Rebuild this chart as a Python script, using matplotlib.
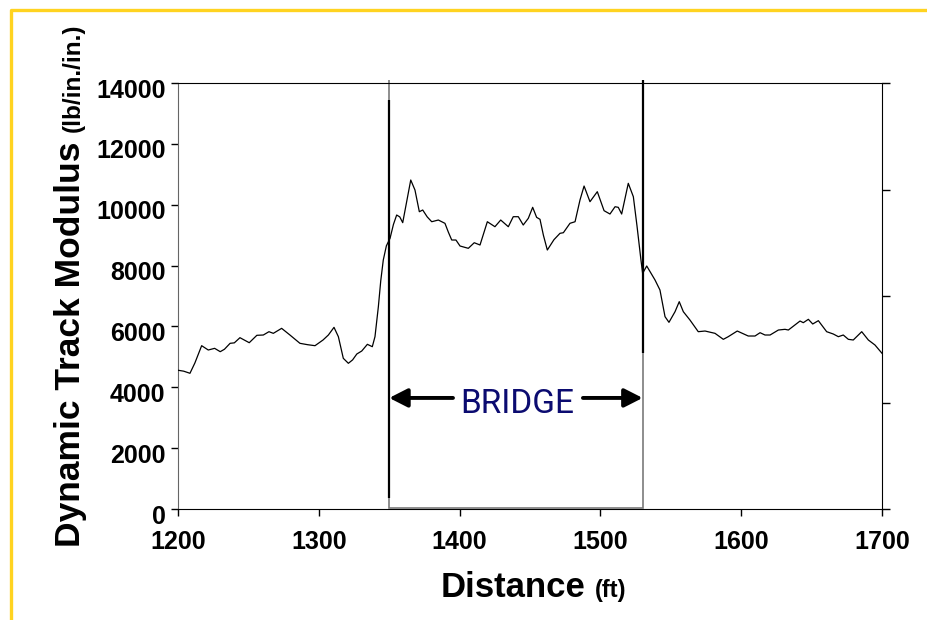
import numpy as np
import matplotlib
matplotlib.use("Agg")
from matplotlib import pyplot as plt
from matplotlib import patches, lines
import matplotlib.transforms as mtransforms

# distance along the track (ft) and dynamic track modulus (lb/in./in.)
distance = [1200, 1204, 1208.5, 1212, 1216.8, 1221.5, 1226, 1230, 1233, 1237, 1240, 1244,
            1250.6, 1256, 1260.6, 1264.6, 1267.7, 1273.6, 1279.5, 1286.6, 1292, 1297.3,
            1303, 1306.8, 1310.8, 1313.9, 1317.4, 1321, 1324, 1327, 1330.5, 1334.5, 1338,
            1339.9, 1342.3, 1344, 1345.8, 1348, 1350.6, 1353, 1355.3, 1357.5, 1359.6, 1362,
            1365.3, 1368.3, 1371.4, 1373.8, 1377, 1380.2, 1384.9, 1389.6, 1392, 1394.4,
            1397.4, 1400.3, 1406.2, 1410.4, 1414.5, 1419.7, 1425.1, 1429.2, 1434.6, 1438.1,
            1441.7, 1445.2, 1448.8, 1451.9, 1454.7, 1457.1, 1459.5, 1462.3, 1467, 1471.3,
            1473.7, 1478.4, 1482, 1485.5, 1488.4, 1492.6, 1497.8, 1502.6, 1506.8, 1510.4,
            1512.7, 1515.1, 1519.8, 1523.4, 1526, 1528.8, 1530, 1532.9, 1538.8, 1542.3,
            1545.9, 1548.7, 1553, 1556, 1558.9, 1563.6, 1569.5, 1574.3, 1581.4, 1587.3,
            1590.8, 1597.2, 1605, 1609.8, 1613.4, 1616.9, 1620.5, 1626.4, 1631.1, 1633.5,
            1641.8, 1644.1, 1647.7, 1650.8, 1654.8, 1660.7, 1665.4, 1669, 1672.5, 1676.1,
            1679.6, 1685.6, 1690.3, 1695, 1700]
modulus = [4560, 4530, 4460, 4800, 5367, 5225, 5280, 5170, 5250, 5445, 5460, 5630,
           5465, 5708, 5718, 5827, 5773, 5937, 5718, 5445, 5400, 5367,
           5554, 5718, 5970, 5663, 4952, 4788, 4900, 5094, 5192, 5412, 5334,
           5663, 6648, 7500, 8183, 8650, 8896, 9350, 9661, 9600, 9410, 10000,
           10812, 10483, 9770, 9826, 9600, 9441, 9497, 9388, 9100, 8840,
           8840, 8643, 8567, 8751, 8676, 9441, 9277, 9497, 9277, 9606,
           9606, 9333, 9553, 9914, 9585, 9520, 9000, 8511, 8850, 9060,
           9080, 9389, 9441, 10154, 10614, 10099, 10428, 9804, 9694, 9934,
           9914, 9694, 10703, 10263, 9300, 8183, 7745, 7986, 7525, 7197,
           6320, 6135, 6484, 6813, 6484, 6211, 5827, 5849, 5773, 5576,
           5663, 5849, 5685, 5685, 5794, 5718, 5718, 5882, 5905, 5882,
           6178, 6123, 6234, 6080, 6189, 5827, 5751, 5663, 5718, 5576,
           5554, 5827, 5554, 5390, 5117]

bridge_start, bridge_end = 1350, 1530
# spikes in the record at the bridge ends
spike_x = [1350, 1530]
spike_top = [13440, 14100]
spike_bottom = [360, 5130]

arrow_y = 3650
arrow_tails = [1395.3, 1487.6]
label_x, label_y = 1440.8, 3145

xticks = [1200, 1300, 1400, 1500, 1600, 1700]
yticks = [0, 2000, 4000, 6000, 8000, 10000, 12000, 14000]

W, H = 927, 620
fig = plt.figure(figsize=(W / 100, H / 100), dpi=100)
ax = fig.add_axes([178 / W, 1 - 509 / H, (882 - 178) / W, (509 - 83) / H])

ax.plot(distance, modulus, color='black', lw=0.9, zorder=3)
ax.vlines(spike_x, spike_bottom, spike_top, color='black', lw=1.6, zorder=4, clip_on=False)
ax.add_patch(patches.Rectangle((bridge_start, 40), bridge_end - bridge_start, 14000 - 40,
                               fill=False, edgecolor='#7a7a7a', lw=1.2, zorder=2))
ax.vlines([bridge_start], [14000], [14100], color='#7a7a7a', lw=1.2, clip_on=False)

arrow_kw = dict(arrowstyle='-|>,head_length=0.55,head_width=0.28', lw=2.8, color='black',
                mutation_scale=20, shrinkA=0, shrinkB=0)
ax.annotate('', xy=(bridge_start, arrow_y), xytext=(arrow_tails[0], arrow_y), arrowprops=arrow_kw)
ax.annotate('', xy=(bridge_end, arrow_y), xytext=(arrow_tails[1], arrow_y), arrowprops=arrow_kw)
ax.text(label_x, label_y, 'BRIDGE', color='#0b0b70', fontsize=24, family='Roboto',
        ha='center', va='baseline')

ax.set_xlim(1200, 1700)
ax.set_ylim(0, 14000)
ax.set_xticks(xticks)
ax.set_yticks(yticks)
ax.tick_params(direction='out', length=5, width=1, colors='black', labelsize=18)
ax.tick_params(axis='x', pad=10)
ax.tick_params(axis='y', pad=4)
for lab in ax.get_xticklabels() + ax.get_yticklabels():
    lab.set_family('Liberation Sans')
    lab.set_fontweight('bold')
shift = mtransforms.ScaledTranslation(0, -0.05, fig.dpi_scale_trans)
for tick in ax.yaxis.get_major_ticks():
    tick.label1.set_transform(tick.label1.get_transform() + shift)

ax.spines['left'].set_color('#666666')
ax.spines['right'].set_visible(False)

# right axis: ticks only
ax2 = ax.twinx()
ax2.set_ylim(0, 4)
ax2.set_yticks(range(5))
ax2.set_yticklabels([])
ax2.tick_params(direction='out', length=6, width=1)
for s in ['left', 'top', 'bottom']:
    ax2.spines[s].set_visible(False)

# axis titles with smaller unit text
renderer = fig.canvas.get_renderer()
t1 = fig.text(441 / W, 1 - 597 / H, 'Distance', fontsize=25, fontweight='bold',
              family='Liberation Sans', ha='left', va='baseline')
bb = t1.get_window_extent(renderer)
fig.text((bb.x1 + 9) / W, 1 - 597 / H, '(ft)', fontsize=17, fontweight='bold',
         family='Liberation Sans', ha='left', va='baseline')

t2 = fig.text(80 / W, 1 - 547 / H, 'Dynamic Track Modulus', fontsize=25.5, fontweight='bold',
              family='Liberation Sans', rotation=90, rotation_mode='anchor',
              ha='left', va='baseline')
bb = t2.get_window_extent(renderer)
fig.text(80 / W, (bb.y1 + 9) / H, '(lb/in./in.)', fontsize=17.5, fontweight='bold',
         family='Liberation Sans', rotation=90, rotation_mode='anchor',
         ha='left', va='baseline')

# yellow slide frame
fig.add_artist(lines.Line2D([11 / W, 11 / W, 1.01], [-0.01, 1 - 9.5 / H, 1 - 9.5 / H],
                            transform=fig.transFigure, color='#FFD320', lw=2.4))

fig.savefig('out.png', dpi=100)
